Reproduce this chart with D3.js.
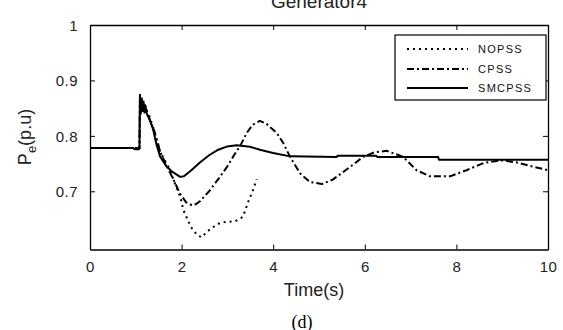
<!DOCTYPE html>
<html><head><meta charset="utf-8">
<script src="https://cdn.jsdelivr.net/npm/d3@7"></script>
<style>body{margin:0;background:#fff}svg{display:block}</style>
</head><body>
<svg id="c" width="563" height="330"></svg>
<script>
const title = "Generator4";
const xLabel = "Time(s)";
const caption = "(d)";
const xTicks = [0, 2, 4, 6, 8, 10];
const yTicks = [0.7, 0.8, 0.9, 1];
const yTickLabels = ["0.7", "0.8", "0.9", "1"];
const seriesNames = ["NOPSS", "CPSS", "SMCPSS"];

// NOPSS (dotted)
const nopssT = [0, 1.08, 1.09, 1.12, 1.15, 1.18, 1.22, 1.3, 1.4, 1.53, 1.65, 1.75, 1.85, 1.97, 2.04, 2.2, 2.34, 2.44, 2.55, 2.7, 2.84, 3.0, 3.17, 3.34, 3.45, 3.55, 3.64];
const nopssV = [0.778, 0.778, 0.860, 0.848, 0.858, 0.845, 0.850, 0.835, 0.810, 0.772, 0.753, 0.738, 0.715, 0.690, 0.666, 0.636, 0.621, 0.617, 0.627, 0.636, 0.643, 0.645, 0.646, 0.654, 0.680, 0.700, 0.722];

// CPSS (dash-dot)
const cpssT = [0, 1.08, 1.09, 1.11, 1.13, 1.16, 1.19, 1.23, 1.3, 1.4, 1.53, 1.65, 1.8, 1.97, 2.1, 2.22, 2.32, 2.4, 2.6, 2.8, 3.0, 3.15, 3.28, 3.42, 3.55, 3.71, 3.85, 4.08, 4.22, 4.37, 4.59, 4.8, 5.06, 5.3, 5.68, 5.96, 6.2, 6.48, 6.84, 7.13, 7.42, 7.86, 8.22, 8.59, 9.0, 9.32, 9.6, 10];
const cpssV = [0.778, 0.778, 0.862, 0.845, 0.860, 0.848, 0.855, 0.845, 0.830, 0.810, 0.772, 0.750, 0.725, 0.695, 0.680, 0.675, 0.677, 0.682, 0.700, 0.722, 0.745, 0.766, 0.782, 0.805, 0.820, 0.827, 0.822, 0.805, 0.787, 0.762, 0.732, 0.717, 0.713, 0.721, 0.744, 0.762, 0.770, 0.773, 0.762, 0.738, 0.727, 0.727, 0.738, 0.751, 0.756, 0.752, 0.746, 0.738];

// SMCPSS (solid)
const smcT = [0, 0.95, 0.97, 1.07, 1.08, 1.09, 1.11, 1.13, 1.15, 1.17, 1.19, 1.21, 1.24, 1.3, 1.38, 1.45, 1.53, 1.67, 1.8, 1.97, 2.05, 2.2, 2.4, 2.6, 2.8, 3.0, 3.2, 3.49, 3.71, 4.0, 4.37, 5.39, 5.4, 6.25, 6.27, 7.6, 7.62, 10];
const smcV = [0.778, 0.778, 0.776, 0.776, 0.778, 0.874, 0.840, 0.868, 0.845, 0.862, 0.842, 0.855, 0.840, 0.830, 0.811, 0.785, 0.763, 0.745, 0.735, 0.726, 0.727, 0.737, 0.752, 0.765, 0.775, 0.781, 0.783, 0.7805, 0.775, 0.769, 0.763, 0.762, 0.764, 0.764, 0.762, 0.762, 0.757, 0.757];

const seriesT = [nopssT, cpssT, smcT];
const seriesV = [nopssV, cpssV, smcV];
const dashes = ["2,4", "7,3,2,3", null];

const svg = d3.select("#c");
const L = 90, R = 548, T = 25, B = 249.5;
const x = d3.scaleLinear().domain([0, 10]).range([L, R]);
const y = d3.scaleLinear().domain([0.595, 1]).range([B, T]);

svg.append("clipPath").attr("id", "clip").append("rect")
  .attr("x", L).attr("y", T).attr("width", R - L).attr("height", B - T);

const line = d3.line().x(d => x(d[0])).y(d => y(d[1]));
const g = svg.append("g").attr("clip-path", "url(#clip)");
seriesT.forEach((ts, i) => {
  const pts = ts.map((t, j) => [t, seriesV[i][j]]);
  g.append("path").datum(pts).attr("d", line)
    .attr("fill", "none").attr("stroke", "#000").attr("stroke-width", 2)
    .attr("stroke-linejoin", "round")
    .attr("stroke-dasharray", dashes[i]);
});

// axes with inside ticks (MATLAB style box)
const tl = 5;
const axB = svg.append("g").attr("transform", `translate(0,${B})`)
  .call(d3.axisBottom(x).tickValues(xTicks).tickSizeInner(-tl).tickSizeOuter(0).tickPadding(12));
const axT = svg.append("g").attr("transform", `translate(0,${T})`)
  .call(d3.axisTop(x).tickValues(xTicks).tickSizeInner(-tl).tickSizeOuter(0).tickFormat(""));
const axL = svg.append("g").attr("transform", `translate(${L},0)`)
  .call(d3.axisLeft(y).tickValues(yTicks).tickSizeInner(-tl).tickSizeOuter(0).tickPadding(12)
    .tickFormat((d, i) => yTickLabels[i]));
const axR = svg.append("g").attr("transform", `translate(${R},0)`)
  .call(d3.axisRight(y).tickValues(yTicks).tickSizeInner(-tl).tickSizeOuter(0).tickFormat(""));
[axB, axT, axL, axR].forEach(a => {
  a.select(".domain").attr("stroke", "#000").attr("stroke-width", 1.3);
  a.selectAll(".tick line").attr("stroke", "#000").attr("stroke-width", 1);
  a.selectAll("text").attr("font-family", "Liberation Sans, Arial, sans-serif")
    .attr("font-size", 15).attr("fill", "#222").attr("letter-spacing", "0.5px");
});
axB.selectAll(".tick text").attr("dy", "0.71em");
axL.selectAll(".tick text").attr("dy", "0.36em");

// title
svg.append("text").attr("x", 319).attr("y", 8).attr("text-anchor", "middle")
  .attr("font-family", "Liberation Sans, Arial, sans-serif").attr("font-size", 19).attr("fill", "#222")
  .text(title);
// x label
svg.append("text").attr("x", 314).attr("y", 296).attr("text-anchor", "middle")
  .attr("font-family", "Liberation Sans, Arial, sans-serif").attr("font-size", 18).attr("fill", "#222")
  .text(xLabel);
// y label
const yl = svg.append("text").attr("transform", "translate(31,137) rotate(-90)").attr("text-anchor", "middle")
  .attr("font-family", "Liberation Sans, Arial, sans-serif").attr("font-size", 18).attr("fill", "#222");
yl.append("tspan").text("P");
yl.append("tspan").attr("font-size", 13).attr("dy", 5).text("e");
yl.append("tspan").attr("dy", -5).text("(p.u)");
// caption
svg.append("text").attr("x", 302).attr("y", 328).attr("text-anchor", "middle")
  .attr("font-family", "Liberation Serif, Times New Roman, serif").attr("font-size", 18).attr("fill", "#000")
  .text(caption);

// legend
const lg = svg.append("g");
lg.append("rect").attr("x", 395).attr("y", 35).attr("width", 151).attr("height", 65)
  .attr("fill", "#fff").attr("stroke", "#000").attr("stroke-width", 1.2);
const ly = [49, 69, 88];
seriesNames.forEach((n, i) => {
  lg.append("line").attr("x1", 407).attr("x2", 468).attr("y1", ly[i]).attr("y2", ly[i])
    .attr("stroke", "#000").attr("stroke-width", 2).attr("stroke-dasharray", dashes[i]);
  lg.append("text").attr("x", 478).attr("y", ly[i]).attr("dy", "0.36em")
    .attr("font-family", "Liberation Sans, Arial, sans-serif").attr("font-size", 11)
    .attr("letter-spacing", "1.3px").attr("fill", "#111").text(n);
});
</script>
</body></html>
